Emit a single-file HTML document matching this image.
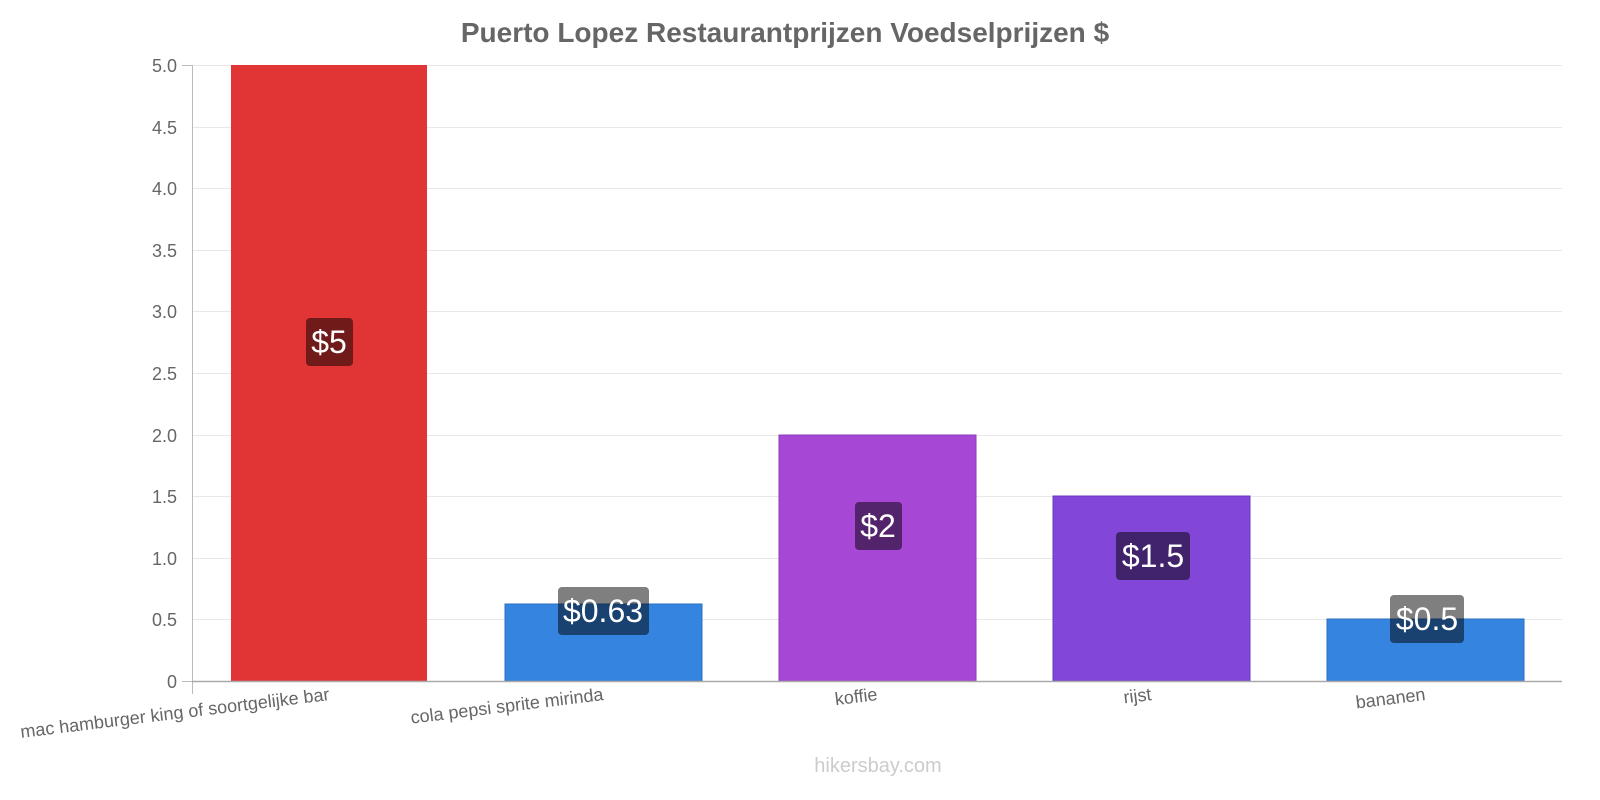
<!DOCTYPE html>
<html><head><style>body{margin:0;background:#fff}svg{display:block}</style></head><body>
<svg width="1600" height="800" xmlns="http://www.w3.org/2000/svg" font-family="Liberation Sans, sans-serif">
<text x="785" y="42" text-anchor="middle" font-size="28" font-weight="bold" fill="#666">Puerto Lopez Restaurantprijzen Voedselprijzen $</text>
<g stroke="#e8e8e8" stroke-width="1">
<line x1="192" x2="1562" y1="65.5" y2="65.5"/><line x1="192" x2="1562" y1="127.5" y2="127.5"/><line x1="192" x2="1562" y1="188.5" y2="188.5"/><line x1="192" x2="1562" y1="250.5" y2="250.5"/><line x1="192" x2="1562" y1="311.5" y2="311.5"/><line x1="192" x2="1562" y1="373.5" y2="373.5"/><line x1="192" x2="1562" y1="435.5" y2="435.5"/><line x1="192" x2="1562" y1="496.5" y2="496.5"/><line x1="192" x2="1562" y1="558.5" y2="558.5"/><line x1="192" x2="1562" y1="619.5" y2="619.5"/>
</g>
<g font-size="18" fill="#666" text-anchor="end">
<text x="177" y="72">5.0</text><text x="177" y="134">4.5</text><text x="177" y="195">4.0</text><text x="177" y="257">3.5</text><text x="177" y="318">3.0</text><text x="177" y="380">2.5</text><text x="177" y="442">2.0</text><text x="177" y="503">1.5</text><text x="177" y="565">1.0</text><text x="177" y="626">0.5</text><text x="177" y="688">0</text>
</g>
<g stroke="#bbb"><line x1="192.5" x2="192.5" y1="65" y2="694"/><line x1="182" x2="192" y1="65.5" y2="65.5"/><line x1="182" x2="192" y1="681.5" y2="681.5"/></g>
<rect x="231" y="65" width="196" height="616" fill="#e13535"/>
<rect x="505" y="604" width="197" height="77" fill="#3584e0" stroke="#2a6fc2"/>
<rect x="779" y="435" width="197" height="246" fill="#a747d6" stroke="#8e3bb8"/>
<rect x="1053" y="496" width="197" height="185" fill="#8247d8" stroke="#6c3ac0"/>
<rect x="1327" y="619" width="197" height="62" fill="#3584e0" stroke="#2a6fc2"/>
<line x1="192" x2="1562" y1="681.5" y2="681.5" stroke="#aaa" stroke-width="1.5"/>
<g fill="rgba(0,0,0,0.5)">
<rect x="306" y="318" width="47" height="48" rx="4"/>
<rect x="558" y="587" width="91" height="48" rx="4"/>
<rect x="855" y="502" width="47" height="48" rx="4"/>
<rect x="1116" y="532" width="74" height="48" rx="4"/>
<rect x="1390" y="595" width="74" height="48" rx="4"/>
</g>
<g font-size="32" fill="#fff" text-anchor="middle">
<text x="329" y="353">$5</text><text x="603" y="622">$0.63</text><text x="878" y="537">$2</text><text x="1153" y="567">$1.5</text><text x="1427" y="630">$0.5</text>
</g>
<g font-size="18" fill="#666" text-anchor="end">
<text transform="translate(330,700) rotate(-7)">mac hamburger king of soortgelijke bar</text>
<text transform="translate(604,700) rotate(-7)">cola pepsi sprite mirinda</text>
<text transform="translate(878,700) rotate(-7)">koffie</text>
<text transform="translate(1152,700) rotate(-7)">rijst</text>
<text transform="translate(1426,700) rotate(-7)">bananen</text>
</g>
<text x="878" y="772" text-anchor="middle" font-size="20" fill="#ccc">hikersbay.com</text>
</svg>
</body></html>
